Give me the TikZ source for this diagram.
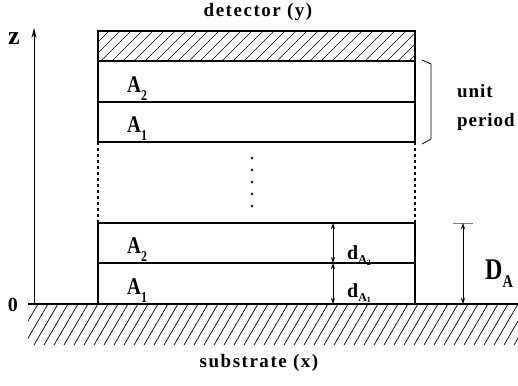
\documentclass[tikz,border=0pt]{standalone}
\usepackage{fontspec}
\usepackage{graphicx}
\setmainfont{Liberation Serif}
\usetikzlibrary{arrows.meta}

\newcommand{\lowsub}[3]{\raisebox{-#1}{\fontsize{#2}{#2}\selectfont #3}}
\newcommand{\narrow}[1]{\scalebox{0.8}[1]{#1}}

\begin{document}
\begin{tikzpicture}[x=1pt,y=1pt,
          every node/.style={inner sep=0pt, font=\bfseries},
          caption/.style={font=\bfseries\fontsize{19}{19}\selectfont\addfontfeature{LetterSpace=8}},
          layer/.style={draw, line width=1.5pt},
          hatch/.style={line width=0.7pt},
          lbl/.style={anchor=base west, font=\bfseries\fontsize{24}{24}\selectfont},
          dlbl/.style={anchor=base west, font=\bfseries\fontsize{20}{20}\selectfont},
          dim/.style={line width=0.8pt, {Stealth[length=6pt,width=4pt,inset=2pt]}-{Stealth[length=6pt,width=4pt,inset=2pt]}}
      ]
        \useasboundingbox (0,0) rectangle (518,385);

        % substrate
        \begin{scope}
          \clip (28,40) rectangle (518,81);
          \foreach \i in {0,...,52}
            \draw[hatch] (4+\i*10,40) -- ++(24,41);
        \end{scope}
        \draw[line width=2.2pt] (28,81) -- (518,81);

        % detector
        \begin{scope}
          \clip (98,324) rectangle (415,354);
          \foreach \i in {0,...,31}
            \draw[hatch] (68+\i*11,324) -- ++(30,30);
        \end{scope}
        \draw[layer] (98,324) rectangle (415,354);

        % upper period
        \draw[layer] (98,243) rectangle (415,324);
        \draw[layer] (98,283) -- (415,283);

        % lower period
        \draw[layer] (98,81) rectangle (415,162);
        \draw[layer] (98,122) -- (415,122);

        % gap between periods
        \draw[line width=1.2pt, dash pattern=on 3pt off 3pt] (98,243) -- (98,162);
        \draw[line width=1.2pt, dash pattern=on 3pt off 3pt] (415,243) -- (415,162);
        \foreach \y in {227,215,203,191,179}
          \fill (252,\y) circle (1.3pt);

        % z axis
        \coordinate (zfoot) at (34,81);
        \coordinate (ztip) at (34,357);
        \draw[line width=0.9pt, -{Stealth[length=10pt,width=5pt]}] (zfoot) -- (ztip);
        \node[font=\bfseries\fontsize{26}{26}\selectfont] (zlbl) at (14,346) {z};
        \node[font=\bfseries\fontsize{20}{20}\selectfont] (zero) at (13,80) {0};

        % unit period bracket
        \draw[line width=0.8pt] (422,325) -- (431,321) -- (431,246) -- (422,241);
        \node[caption, anchor=base west, font=\bfseries\fontsize{19}{19}\selectfont\addfontfeature{LetterSpace=5}] (unit) at (457,287) {unit};
        \node[caption, anchor=base west, font=\bfseries\fontsize{19}{19}\selectfont\addfontfeature{LetterSpace=5}] (period) at (457,258) {period};

        % layer labels
        \node[lbl] (a2up) at (127,292) {\narrow{A\lowsub{8pt}{15}{2}}};
        \node[lbl] (a1up) at (127,252) {\narrow{A\lowsub{8pt}{15}{1}}};
        \node[lbl] (a2lo) at (127,131) {\narrow{A\lowsub{8pt}{15}{2}}};
        \node[lbl] (a1lo) at (127,90) {\narrow{A\lowsub{8pt}{15}{1}}};

        % thicknesses
        \coordinate (dtop) at (333,162);
        \coordinate (dmid) at (333,122);
        \coordinate (dbot) at (333,81);
        \draw[dim] (dtop) -- (dmid);
        \draw[dim] (dmid) -- (dbot);
        \node[dlbl] (da2) at (347,125) {d\lowsub{4pt}{12}{A\lowsub{2pt}{8}{2}}};
        \node[dlbl] (da1) at (347,88) {d\lowsub{4pt}{12}{A\lowsub{2pt}{8}{1}}};

        % total thickness
        \coordinate (Dtop) at (463,162);
        \coordinate (Dbot) at (463,81);
        \draw[gray, line width=0.8pt] (453,162) -- (473,162);
        \draw[dim] (Dtop) -- (Dbot);
        \node[anchor=base west, font=\bfseries\fontsize{30}{30}\selectfont] (DA) at (485,105) {\narrow{D\lowsub{8pt}{18}{A}}};

        % captions
        \node[caption] (det) at (258,373) {detector (y)};
        \node[caption] (sub) at (259,22) {substrate (x)};
      \end{tikzpicture}
\end{document}
